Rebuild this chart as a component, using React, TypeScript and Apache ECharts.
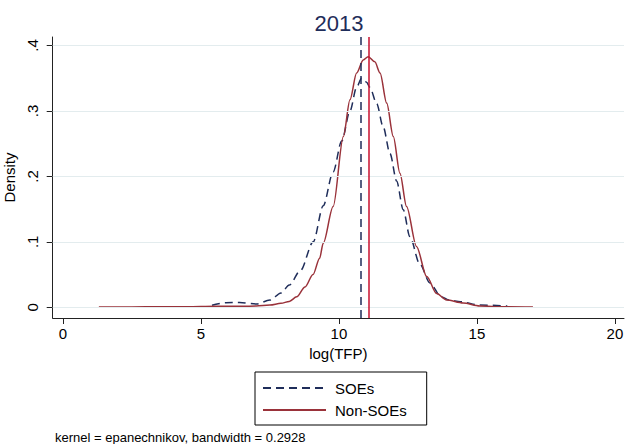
import React, { useEffect, useRef } from "react";
import * as echarts from "echarts";

const soeX = [5.4, 5.9, 6.4, 7.0, 7.5, 7.9, 8.2, 8.6, 9.07, 9.43, 9.79, 10.1, 10.4, 10.64, 10.82, 11.0, 11.12, 11.37, 11.6, 11.85, 12.09, 12.33, 12.57, 12.93, 13.3, 13.7, 14.0, 14.4, 15.1, 16.1];
const soeY = [0.003, 0.007, 0.0075, 0.005, 0.011, 0.022, 0.034, 0.056, 0.1, 0.155, 0.207, 0.254, 0.3, 0.336, 0.35, 0.344, 0.336, 0.311, 0.276, 0.235, 0.193, 0.149, 0.108, 0.066, 0.037, 0.016, 0.011, 0.0085, 0.0035, 0.002];

const nonX = [1.3, 2.5, 3.5, 4.5, 5.5, 6.5, 7.0, 7.5, 7.9, 8.2, 8.47, 8.77, 9.06, 9.3, 9.43, 9.79, 10.16, 10.4, 10.64, 10.88, 11.06, 11.3, 11.49, 11.73, 11.97, 12.21, 12.45, 12.81, 13.18, 13.54, 13.9, 14.5, 15.1, 16.0, 17.03];
const nonY = [0.0005, 0.0006, 0.001, 0.0008, 0.0015, 0.0015, 0.002, 0.0035, 0.006, 0.009, 0.016, 0.031, 0.05, 0.075, 0.098, 0.154, 0.261, 0.317, 0.358, 0.378, 0.383, 0.375, 0.358, 0.312, 0.261, 0.205, 0.154, 0.093, 0.047, 0.021, 0.011, 0.0065, 0.002, 0.0008, 0.0003];

const meanSOE = 10.8;
const meanNon = 11.09;

const xTicks = [0, 5, 10, 15, 20];
const yTicks = [0, 0.1, 0.2, 0.3, 0.4];

const FONT = "'Liberation Sans', Arial, Helvetica, sans-serif";
const NAVY = "#1f2d5a";
const MAROON = "#9a323a";
const RED = "#c8102e";

export default function App() {
  const ref = useRef<HTMLDivElement>(null);
  useEffect(() => {
    if (!ref.current) return;
    const chart = echarts.init(ref.current, undefined, { renderer: "svg" });
    const soeData = soeX.map((x, i) => [x, soeY[i]]);
    const nonData = nonX.map((x, i) => [x, nonY[i]]);
    chart.setOption({
      animation: false,
      backgroundColor: "#ffffff",
      textStyle: { fontFamily: FONT },
      grid: { left: 52.7, right: 1, top: 37, bottom: 126, outerBoundsMode: "none", containLabel: false },
      xAxis: {
        type: "value",
        min: -0.373,
        max: 20.33,
        axisLine: { show: true, onZero: false, lineStyle: { color: "#222", width: 1 } },
        axisTick: { show: true, length: 6, customValues: xTicks, lineStyle: { color: "#222" } },
        axisLabel: { customValues: xTicks, fontSize: 15, color: "#000", fontFamily: FONT, margin: 8 },
        splitLine: { show: false },
        name: "log(TFP)",
        nameLocation: "middle",
        nameGap: 27,
        nameTextStyle: { fontSize: 15, color: "#000", fontFamily: FONT },
      },
      yAxis: {
        type: "value",
        min: -0.01635,
        max: 0.413,
        axisLine: { show: true, onZero: false, lineStyle: { color: "#222", width: 1 } },
        axisTick: { show: true, length: 6, customValues: yTicks, lineStyle: { color: "#222" } },
        axisLabel: {
          customValues: yTicks,
          rotate: 90,
          fontSize: 15,
          color: "#000",
          fontFamily: FONT,
          margin: 13,
          formatter: (v: number) => (Math.abs(v) < 1e-9 ? "0" : "." + Math.round(v * 10)),
        },
        splitLine: { show: false },
        name: "Density",
        nameLocation: "middle",
        nameGap: 30,
        nameTextStyle: { fontSize: 15, color: "#000", fontFamily: FONT },
      },
      legend: {
        data: ["SOEs", "Non-SOEs"],
        orient: "vertical",
        left: 255,
        top: 372,
        padding: [8, 20, 7, 7],
        itemGap: 6,
        itemWidth: 63,
        itemHeight: 16,
        borderColor: "#000",
        borderWidth: 1,
        borderRadius: 0,
        itemStyle: { opacity: 0 },
        textStyle: { fontSize: 15, color: "#000", fontFamily: FONT, lineHeight: 16, padding: [0, 0, 0, 4] },
      },
      graphic: [
        {
          type: "text",
          x: 339,
          y: 23,
          style: { text: "2013", fontSize: 22, fontFamily: FONT, fill: NAVY, textAlign: "center", textVerticalAlign: "middle" },
        },
        {
          type: "text",
          x: 55,
          y: 437,
          style: { text: "kernel = epanechnikov, bandwidth = 0.2928", fontSize: 13, fontFamily: FONT, fill: "#000", textAlign: "left", textVerticalAlign: "middle" },
        },
      ],
      series: [
        {
          name: "grid",
          type: "line",
          data: [],
          silent: true,
          z: 1,
          markLine: {
            silent: true,
            symbol: ["none", "none"],
            label: { show: false },
            lineStyle: { color: "#e3ecee", width: 1, type: "solid" },
            data: yTicks.map((v) => ({ yAxis: v })),
          },
        },
        {
          name: "SOEs",
          type: "line",
          data: soeData,
          showSymbol: false,
          symbol: "none",
          smooth: 0.3,
          smoothMonotone: "x",
          z: 3,
          lineStyle: { color: NAVY, width: 1.5, type: [8, 5] },
          itemStyle: { color: NAVY },
          markLine: {
            silent: true,
            symbol: ["none", "none"],
            label: { show: false },
            lineStyle: { color: NAVY, width: 1.5, type: [8, 5] },
            data: [{ xAxis: meanSOE }],
          },
        },
        {
          name: "Non-SOEs",
          type: "line",
          data: nonData,
          showSymbol: false,
          symbol: "none",
          smooth: 0.3,
          smoothMonotone: "x",
          z: 3,
          lineStyle: { color: MAROON, width: 1.5, type: "solid" },
          itemStyle: { color: MAROON },
          markLine: {
            silent: true,
            symbol: ["none", "none"],
            label: { show: false },
            lineStyle: { color: RED, width: 1.5, type: "solid" },
            data: [{ xAxis: meanNon }],
          },
        },
      ],
    });
    return () => chart.dispose();
  }, []);
  return <div ref={ref} style={{ width: 625, height: 444, position: "fixed", left: 0, top: 0 }} />;
}
